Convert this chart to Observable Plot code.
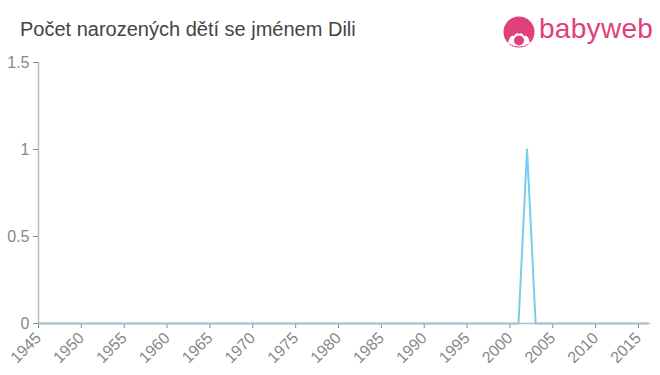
<!DOCTYPE html>
<html>
<head>
<meta charset="utf-8">
<script src="https://cdn.jsdelivr.net/npm/d3@7"></script>
<script src="https://cdn.jsdelivr.net/npm/@observablehq/plot@0.6"></script>
<style>
  html, body { margin: 0; padding: 0; background: #fff; }
  #wrap { position: relative; width: 660px; height: 375px; font-family: "Liberation Sans", Arial, sans-serif; }
  #title { position: absolute; left: 20px; top: 18px; font-size: 20px; color: #444; white-space: nowrap; }
  #icon { position: absolute; left: 503px; top: 16px; }
  #brand { position: absolute; left: 539px; top: 13px; font-family: "Liberation Sans", Arial, sans-serif; font-size: 28px; color: #e0407e; white-space: nowrap; letter-spacing: 0.3px; }
  #chart { position: absolute; left: 0; top: 0; }
</style>
</head>
<body>
<div id="wrap">
  <div id="chart"></div>
  <div id="title">Počet narozených dětí se jménem Dili</div>
  <svg id="icon" width="32" height="32" viewBox="0 0 32 32">
    <circle cx="16" cy="16" r="15.5" fill="#e0407e"/>
    <path d="M5 27 Q7 18 11 20 Q13 16 16 18 Q19 16 21 20 Q25 18 27 27 Q16 34 5 27 Z" fill="#fff"/>
    <circle cx="16" cy="24.5" r="5" fill="#e0407e"/>
  </svg>
  <div id="brand">babyweb</div>
</div>
<script>
const years = [1945, 2001, 2002, 2003, 2016];
const counts = [0, 0, 1, 0, 0];
const xTicks = [1945, 1950, 1955, 1960, 1965, 1970, 1975, 1980, 1985, 1990, 1995, 2000, 2005, 2010, 2015];
const yTicks = [0, 0.5, 1, 1.5];

const data = years.map((y, i) => ({year: y, count: counts[i]}));

const chart = Plot.plot({
  width: 660,
  height: 375,
  marginLeft: 38,
  marginRight: 10,
  marginTop: 62,
  marginBottom: 52,
  style: {fontFamily: "Liberation Sans, Arial, sans-serif", fontSize: "16px", color: "#888", background: "transparent"},
  x: {domain: [1945, 2016.4], ticks: xTicks, tickFormat: d => String(d), tickRotate: -45, tickSize: 5, label: null},
  y: {domain: [0, 1.5], ticks: yTicks, tickFormat: d => String(d), tickSize: 5, label: null},
  marks: [
    Plot.ruleX([1945], {stroke: "#bbb", strokeWidth: 1.5}),
    Plot.line(data, {x: "year", y: "count", stroke: "#74cfee", strokeWidth: 2}),
    Plot.ruleY([0], {stroke: "#bbb", strokeWidth: 1.5})
  ]
});
document.getElementById("chart").appendChild(chart);
</script>
</body>
</html>
